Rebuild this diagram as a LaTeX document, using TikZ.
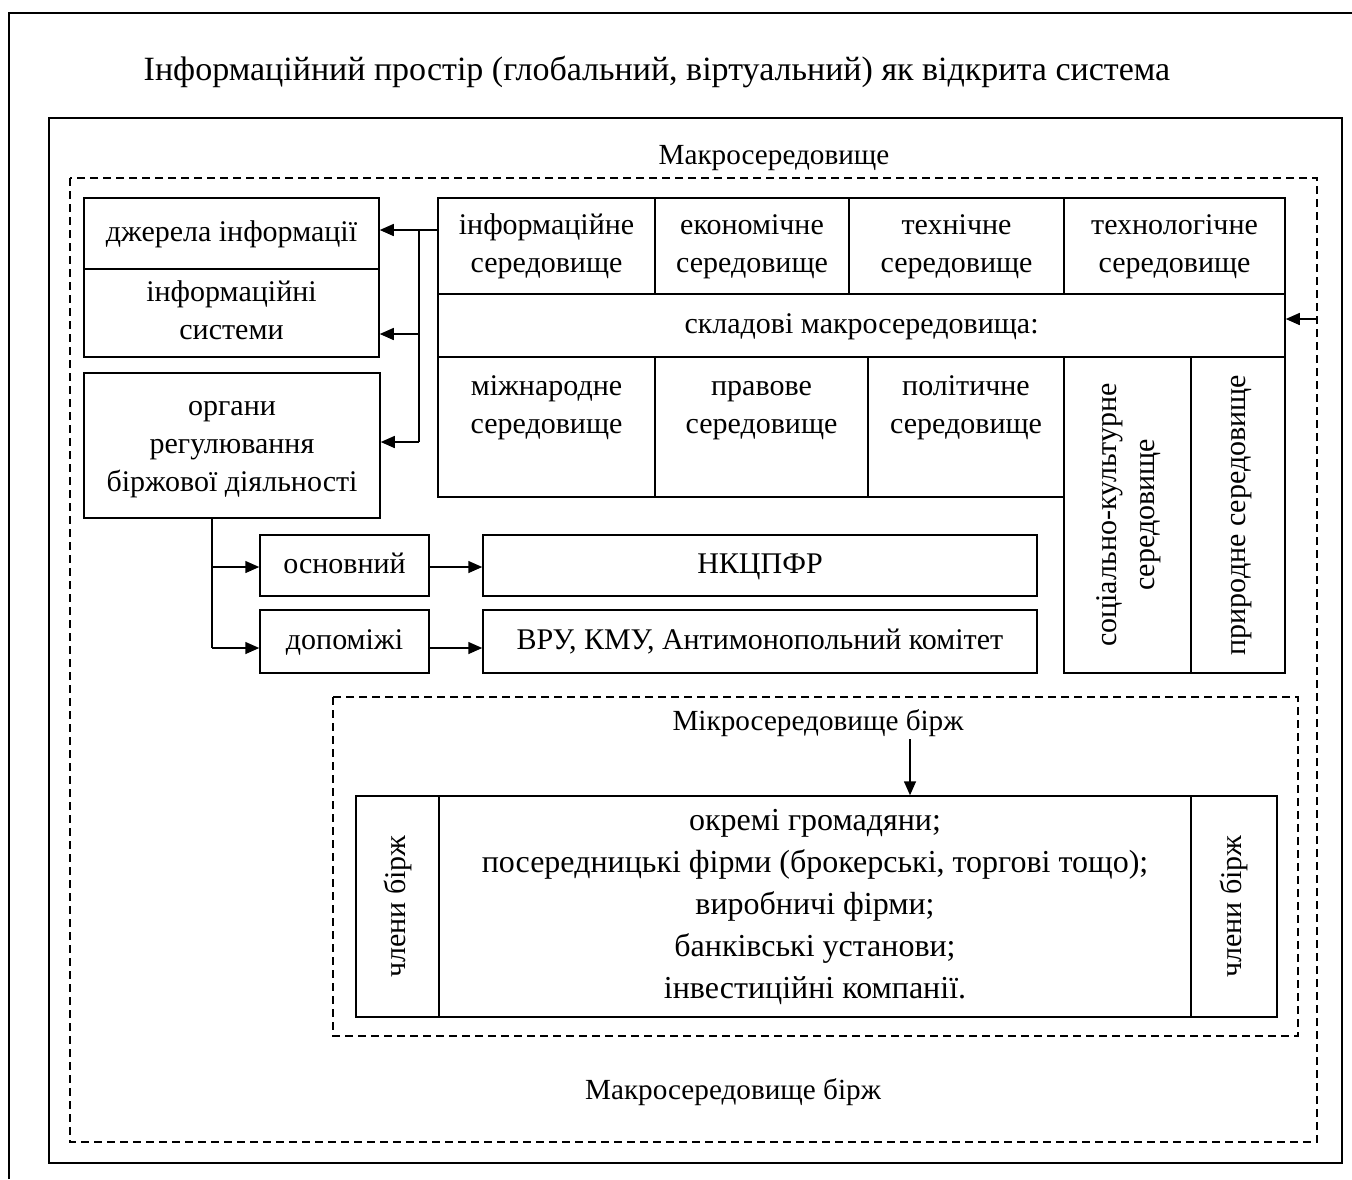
\documentclass[tikz,border=0pt]{standalone}
\usepackage{fontspec}
\setmainfont{Liberation Serif}
\usetikzlibrary{arrows.meta}
\tikzset{
  box/.style={draw, line width=0.75pt, inner sep=0pt, align=center},
  txt/.style={inner sep=0pt, align=center, font=\fontsize{15}{19}\selectfont},
  vtxt/.style={txt, rotate=90},
  arr/.style={line width=0.75pt, -{Triangle[length=7pt,width=6pt]}},
  ln/.style={line width=0.75pt},
  dsh/.style={line width=0.6pt, dash pattern=on 4pt off 2.5pt},
}
\newcommand\bx[6]{\node[box, minimum width={(#4-#2)*0.5pt}, minimum height={(#5-#3)*0.5pt}] (#1) at ({(#2+#4)/2},{(#3+#5)/2}) {#6};}
\begin{document}
\begin{tikzpicture}[x=0.5pt,y=-0.5pt]
\useasboundingbox (0,0) rectangle (1352,1179);
% frames
\draw[line width=1pt] (9,1179) -- (9,12.5) -- (1352,12.5);
\draw[line width=0.7pt] (49,118) rectangle (1342,1163);
\draw[dsh] (70,178) rectangle (1317,1142);
\draw[dsh] (333,697) rectangle (1298,1036);
% titles
\node[txt, font=\fontsize{17}{20}\selectfont] (title) at (657,72) {Інформаційний простір (глобальний, віртуальний) як відкрита система};
\node[txt, font=\fontsize{14.6}{18}\selectfont] (macro) at (774,158) {Макросередовище};
\node[txt, font=\fontsize{14.6}{18}\selectfont] (micro) at (818,723) {Мікросередовище бірж};
\node[txt, font=\fontsize{14.6}{18}\selectfont] (macrob) at (733,1092) {Макросередовище бірж};
% left boxes
\bx{dzh}{84}{198}{379}{269}{}
\node[txt] at (dzh) {\strut джерела інформації};
\bx{is}{84}{269}{379}{357}{}
\node[txt] at (is) {\strut інформаційні\\системи\strut};
\bx{org}{84}{373}{380}{518}{}
\node[txt] at (org) {\strut органи\\регулювання\\біржової діяльності\strut};
% macro table
\bx{inf}{438}{198}{655}{294}{}
\node[txt] at (inf) {\strut інформаційне\\середовище\strut};
\bx{ekon}{655}{198}{849}{294}{}
\node[txt] at (ekon) {\strut економічне\\середовище\strut};
\bx{tekh}{849}{198}{1064}{294}{}
\node[txt] at (tekh) {\strut технічне\\середовище\strut};
\bx{tekhl}{1064}{198}{1285}{294}{}
\node[txt] at (tekhl) {\strut технологічне\\середовище\strut};
\bx{skl}{438}{294}{1285}{357}{}
\node[txt] at (skl) {\strut складові макросередовища:};
\bx{mizh}{438}{357}{655}{497}{}
\node[txt] at (546.5,407) {\strut міжнародне\\середовище\strut};
\bx{prav}{655}{357}{868}{497}{}
\node[txt] at (761.5,407) {\strut правове\\середовище\strut};
\bx{polit}{868}{357}{1064}{497}{}
\node[txt] at (966,407) {\strut політичне\\середовище\strut};
\bx{soc}{1064}{357}{1191}{673}{}
\node[vtxt] at (soc) {\strut соціально-культурне\\середовище\strut};
\bx{pryr}{1191}{357}{1285}{673}{}
\node[vtxt] at (pryr) {\strut природне середовище};
% regulators
\bx{osn}{260}{535}{429}{596}{}
\node[txt] at (osn) {\strut основний};
\bx{dop}{260}{610}{429}{673}{}
\node[txt] at (dop) {\strut допоміжі};
\bx{nkc}{483}{535}{1037}{596}{}
\node[txt] at (nkc) {\strut НКЦПФР};
\bx{vru}{483}{610}{1037}{673}{}
\node[txt] at (vru) {\strut ВРУ, КМУ, Антимонопольний комітет};
% micro box
\bx{memL}{356}{796}{439}{1017}{}
\node[vtxt] at (memL) {\strut члени бірж};
\bx{mainb}{439}{796}{1191}{1017}{}
\node[txt, font=\fontsize{16}{21}\selectfont] at (mainb) {\strut окремі громадяни;\\посередницькі фірми (брокерські, торгові тощо);\\виробничі фірми;\\банківські установи;\\інвестиційні компанії.\strut};
\bx{memR}{1191}{796}{1277}{1017}{}
\node[vtxt] at (memR) {\strut члени бірж};
% connectors
\coordinate (b1) at (419,230);
\coordinate (b2) at (419,334);
\coordinate (b3) at (419,442);
\draw[ln] (inf.west |- b1) -- (b1) -- (b3);
\draw[arr] (b1) -- (dzh.east |- b1);
\draw[arr] (b2) -- (is.east |- b2);
\draw[arr] (b3) -- (org.east |- b3);
\coordinate (r) at (1317,319);
\draw[arr] (r) -- (skl.east |- r);
\coordinate (c1) at (212,567);
\coordinate (c2) at (212,648);
\draw[ln] (org.south -| c1) -- (c2);
\draw[arr] (c1) -- (osn.west |- c1);
\draw[arr] (c2) -- (dop.west |- c2);
\draw[arr] (osn.east |- c1) -- (nkc.west |- c1);
\draw[arr] (dop.east |- c2) -- (vru.west |- c2);
\coordinate (m) at (910,739);
\draw[arr] (m) -- (m |- mainb.north);
\end{tikzpicture}
\end{document}
